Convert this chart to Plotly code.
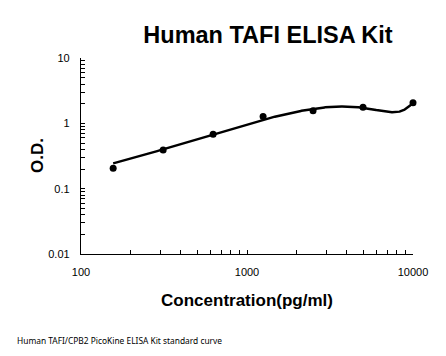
import numpy as np
import plotly.graph_objects as go

# Data
concentration = [156.25, 312.5, 625, 1250, 2500, 5000, 10000]
od = [0.205, 0.39, 0.68, 1.27, 1.56, 1.76, 2.07]

x_ticks = [100, 1000, 10000]
x_tick_labels = ["100", "1000", "10000"]
y_ticks = [0.01, 0.1, 1, 10]
y_tick_labels = ["0.01", "0.1", "1", "10"]
x_minor = [200, 300, 400, 500, 600, 700, 800, 900,
           2000, 3000, 4000, 5000, 6000, 7000, 8000, 9000]
y_minor = [0.02, 0.03, 0.04, 0.05, 0.06, 0.07, 0.08, 0.09,
           0.2, 0.3, 0.4, 0.5, 0.6, 0.7, 0.8, 0.9,
           2, 3, 4, 5, 6, 7, 8, 9]

# Trendline: cubic polynomial fit of the standards
coef = np.polyfit(concentration, od, 3)
xs = np.linspace(min(concentration), max(concentration), 600)
ys = np.polyval(coef, xs)

W, H = 446, 356
L, R, T, B = 81, 33, 58, 102
PW, PH = W - L - R, H - T - B

fig = go.Figure()
fig.add_trace(go.Scatter(x=xs, y=ys, mode="lines",
                         line=dict(color="black", width=2.5),
                         hoverinfo="skip", showlegend=False, cliponaxis=False))
fig.add_trace(go.Scatter(x=concentration, y=od, mode="markers",
                         marker=dict(color="black", size=7),
                         showlegend=False, cliponaxis=False))

fig.update_layout(
    width=W, height=H,
    margin=dict(l=L, r=R, t=T, b=B),
    paper_bgcolor="white", plot_bgcolor="white",
    font=dict(family="Liberation Sans, Arial, sans-serif", color="black", size=11),
    title=dict(text="<b>Human TAFI ELISA Kit</b>", x=268/W, xanchor="center",
               y=1-35/H, yanchor="middle", yref="container",
               font=dict(size=23.5, color="black")),
    xaxis=dict(type="log", range=[2, 4], tickvals=x_ticks, ticktext=x_tick_labels,
               showline=True, linecolor="black", linewidth=1.3,
               ticks="inside", ticklen=4, tickcolor="black", showgrid=False,
               zeroline=False, ticklabelstandoff=8, automargin=False,
               minor=dict(ticks="inside", ticklen=4, tickcolor="black", showgrid=False,
                          tickvals=x_minor),
               title=dict(text="<b>Concentration(pg/ml)</b>", font=dict(size=17), standoff=16)),
    yaxis=dict(type="log", range=[-2, 1], tickvals=y_ticks, ticktext=y_tick_labels,
               showline=True, linecolor="black", linewidth=1.3,
               ticks="inside", ticklen=4, tickcolor="black", showgrid=False,
               zeroline=False, ticklabelstandoff=8, automargin=False,
               minor=dict(ticks="inside", ticklen=4, tickcolor="black", showgrid=False,
                          tickvals=y_minor)),
    annotations=[
        dict(text="<b>O.D.</b>", textangle=-90,
             x=(37-L)/PW, y=(H-B-156)/PH, xref="paper", yref="paper",
             xanchor="center", yanchor="middle", showarrow=False,
             font=dict(size=17, color="black")),
        dict(text="Human TAFI/CPB2 PicoKine ELISA Kit standard curve",
             x=(15-L)/PW, y=(H-B-340)/PH, xref="paper", yref="paper",
             xanchor="left", yanchor="middle", showarrow=False,
             font=dict(family="Noto Sans, sans-serif", size=8.4, color="black")),
    ],
)

fig.write_html("out.html", config={"displayModeBar": False},
               post_script="document.body.style.margin='0';")
